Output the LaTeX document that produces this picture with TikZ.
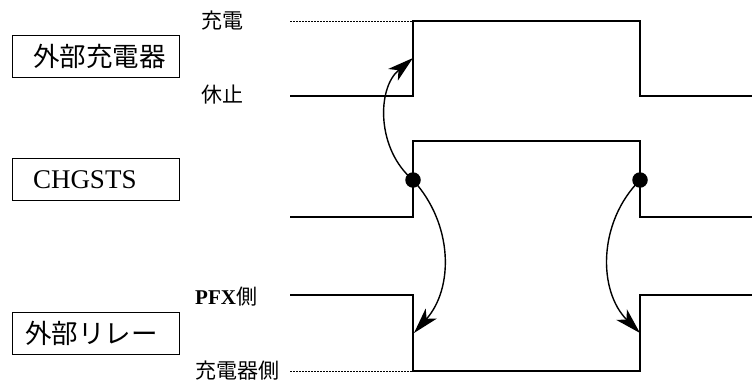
\documentclass[tikz,border=0pt]{standalone}
\usepackage{fontspec}
\setmainfont{Liberation Serif}
\newfontfamily\jp{Noto Sans CJK JP}
\usetikzlibrary{arrows.meta}
\begin{document}
\begin{tikzpicture}[x=1pt,y=-1pt,
  sigbox/.style={draw,line width=0.9pt,minimum width=167pt,minimum height=42pt,
    text width=125pt,inner xsep=21pt,align=left,font=\fontsize{26.5}{29}\selectfont},
  lvl/.style={anchor=west,inner sep=0pt,font=\fontsize{21}{24}\selectfont},
  sig/.style={line width=1.6pt},
  refline/.style={line width=0.6pt,dash pattern=on 1.6pt off 1.4pt},
  dotnode/.style={circle,fill=black,inner sep=0pt,minimum size=15.5pt},
  cause/.style={line width=1.4pt,-{Stealth[length=26pt,width=15pt,inset=7pt]}}]
\useasboundingbox (0,0) rectangle (752,383);
% boxes
\node[sigbox] (b1) at (95.5,56.5) {\jp 外部充電器};
\node[sigbox,font=\fontsize{27}{30}\selectfont] (b2) at (95.5,179.5) {CHGSTS};
\node[sigbox,inner xsep=13pt,text width=141pt] (b3) at (95.5,333) {\jp 外部リレー};
% level labels
\node[lvl] (lchg) at (201,21) {\jp 充電};
\node[lvl] (lrest) at (201,95) {\jp 休止};
\node[lvl] (lpfx) at (195,297) {\textbf{PFX}\jp 側};
\node[lvl] (lcs) at (195,371) {\jp 充電器側};
% coordinates
\coordinate (s1a) at (290,96);
\coordinate (s1b) at (413,96);
\coordinate (s1c) at (413,21);
\coordinate (s1d) at (640,21);
\coordinate (s1e) at (640,96);
\coordinate (s1f) at (752,96);
\coordinate (d1a) at (290,21);
\coordinate (s2a) at (290,217);
\coordinate (s2b) at (413,217);
\coordinate (s2c) at (413,141);
\coordinate (s2d) at (640,141);
\coordinate (s2e) at (640,217);
\coordinate (s2f) at (752,217);
\coordinate (s3a) at (290,295);
\coordinate (s3b) at (413,295);
\coordinate (s3c) at (413,371);
\coordinate (s3d) at (640,371);
\coordinate (s3e) at (640,295);
\coordinate (s3f) at (752,295);
\coordinate (d3a) at (290,371);
% signals
\draw[sig] (s1a) -- (s1b) -- (s1c) -- (s1d) -- (s1e) -- (s1f);
\draw[refline] (d1a) -- (s1c);
\draw[sig] (s2a) -- (s2b) -- (s2c) -- (s2d) -- (s2e) -- (s2f);
\draw[sig] (s3a) -- (s3b) -- (s3c) -- (s3d) -- (s3e) -- (s3f);
\draw[refline] (d3a) -- (s3c);
% event dots
\node[dotnode] (e1) at (413,180) {};
\node[dotnode] (e2) at (640,180) {};
\coordinate (t1) at (413,58);
\coordinate (t2) at (414,333);
\coordinate (t3) at (640,333);
% causal arrows
\draw[cause] (e1.center) to[bend left=50] (t1);
\draw[cause] (e1.center) to[bend left=42] (t2);
\draw[cause] (e2.center) to[bend right=45] (t3);
\end{tikzpicture}
\end{document}
